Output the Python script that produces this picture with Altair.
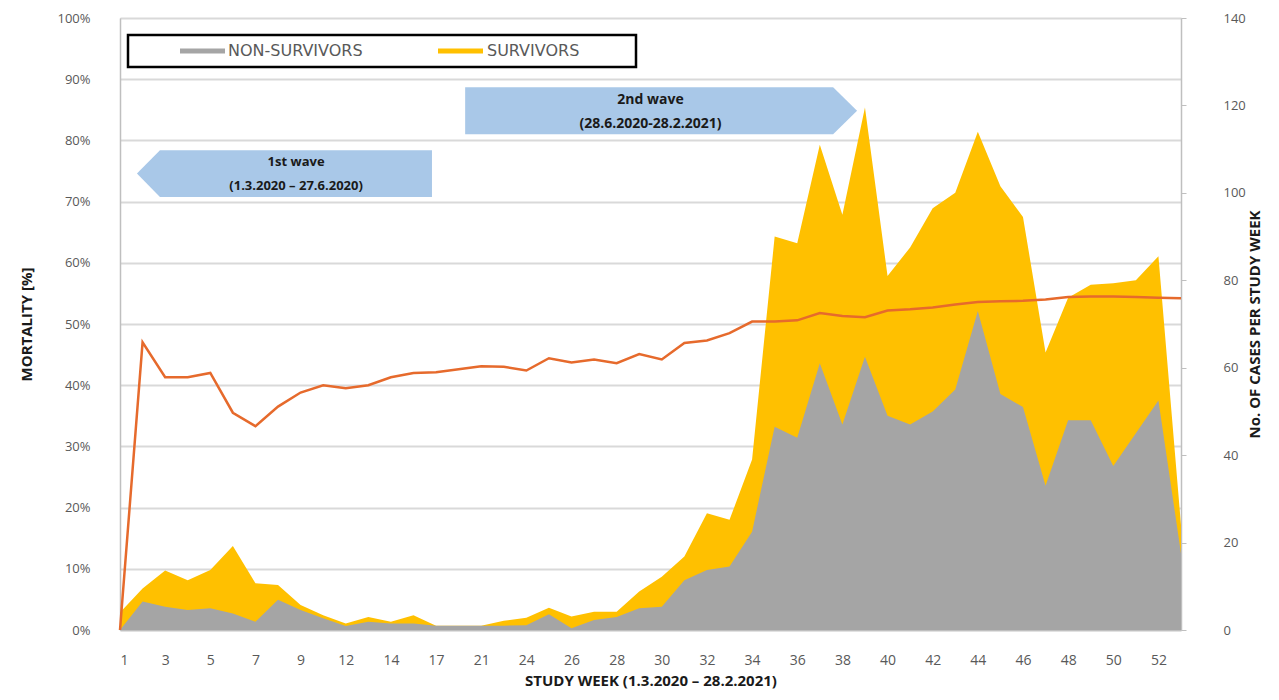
import altair as alt
import pandas as pd

# ---- data ----
weeks = [1, 2, 3, 4, 5, 6, 7, 8, 9, 10, 12, 13, 14, 15, 17, 19, 21, 22, 24, 25,
         26, 27, 28, 29, 30, 31, 32, 33, 34, 35, 36, 37, 38, 39, 40, 41, 42, 43,
         44, 45, 46, 47, 48, 49, 50, 51, 52, 53]
non_survivors = [0, 6.5, 5.3, 4.6, 5, 3.8, 1.9, 6.9, 4.6, 2.7, 0.9, 1.9, 1.5, 1.5,
                 1, 1, 1, 1, 1.1, 3.6, 0.4, 2.3, 3, 5, 5.3, 11.4, 13.7, 14.5, 22.5,
                 46.5, 44, 61, 47, 62.5, 49, 47, 50, 55, 73, 54, 51, 33, 48, 48,
                 37.5, 45, 52.5, 17.5]
survivors = [4, 3, 8.3, 6.8, 8.7, 15.4, 8.8, 3.4, 1.1, 0.7, 0.6, 1.1, 0.4, 1.9,
             0, 0, 0, 1.1, 1.7, 1.5, 2.7, 1.9, 1.2, 3.8, 6.9, 5.4, 13, 10.7, 16.5,
             43.5, 44.5, 50, 48, 57, 32, 40.5, 46.5, 45, 41, 47.5, 43.5, 30.5,
             28, 31, 41.8, 35, 33, 6.5]
mortality = [0, 47, 41.3, 41.3, 42, 35.5, 33.3, 36.5, 38.8, 40, 39.5, 40, 41.3, 42,
             42.1, 42.6, 43.1, 43, 42.4, 44.4, 43.7, 44.2, 43.6, 45.1, 44.2, 46.9,
             47.3, 48.5, 50.4, 50.4, 50.6, 51.8, 51.3, 51.1, 52.2, 52.4, 52.7,
             53.2, 53.6, 53.7, 53.8, 54.0, 54.4, 54.5, 54.5, 54.4, 54.3, 54.2]

pct_ticks = [0, 10, 20, 30, 40, 50, 60, 70, 80, 90, 100]
case_ticks = [0, 20, 40, 60, 80, 100, 120, 140]
x_tick_idx = list(range(0, 47, 2))

df = pd.DataFrame({
    "idx": list(range(len(weeks))),
    "week": weeks,
    "non": non_survivors,
    "surv": survivors,
    "mort": mortality,
})
df["total"] = df["non"] + df["surv"]

label_expr = "[" + ",".join(f"'{w}'" for w in weeks) + "][datum.value]"

FONT = "Open Sans"
GRAY_TXT = "#595959"
DARK = "#1a1a1a"

xscale = alt.Scale(domain=[0, 47], nice=False, zero=False)
xaxis = alt.Axis(values=x_tick_idx, labelExpr=label_expr, grid=False, ticks=False,
                 title="STUDY WEEK (1.3.2020 – 28.2.2021)", titleFontWeight="bold",
                 titleFontSize=15, titleColor=DARK, titlePadding=6,
                 labelFontSize=14, labelColor=GRAY_TXT, labelPadding=23,
                 domainColor="#bfbfbf", domainWidth=1.5, labelFont=FONT, titleFont=FONT)

x = alt.X("idx:Q", scale=xscale, axis=xaxis)

case_scale = alt.Scale(domain=[0, 140], nice=False)
right_axis = alt.Axis(orient="right", values=case_ticks, grid=False,
                      title="No. OF CASES PER STUDY WEEK", titleAngle=270,
                      titleFontWeight="bold", titleFontSize=15, titleColor=DARK,
                      titlePadding=17, labelFontSize=13, labelColor=GRAY_TXT,
                      labelPadding=37, tickSize=5, tickColor="#bfbfbf",
                      domainColor="#bfbfbf", domainWidth=1.5,
                      labelFont=FONT, titleFont=FONT)

gold = alt.Chart(df).mark_area(color="#ffc000", opacity=1).encode(
    x=x, y=alt.Y("total:Q", scale=case_scale, axis=right_axis))
gray = alt.Chart(df).mark_area(color="#a5a5a5", opacity=1).encode(
    x=alt.X("idx:Q", scale=xscale), y=alt.Y("non:Q", scale=case_scale))

areas = alt.layer(gold, gray)

pct_scale = alt.Scale(domain=[0, 100], nice=False)
left_axis = alt.Axis(orient="left", values=pct_ticks, labelExpr="datum.value + '%'",
                     grid=True, gridColor="#d9d9d9", gridWidth=1.8, ticks=False,
                     title="MORTALITY [%]", titleFontWeight="bold", titleFontSize=15,
                     titleColor=DARK, titlePadding=22, labelFontSize=13,
                     labelColor=GRAY_TXT, labelPadding=30, domainColor="#bfbfbf",
                     domainWidth=1.5, labelFont=FONT, titleFont=FONT)

line = alt.Chart(df).mark_line(color="#e66a2c", strokeWidth=2.5).encode(
    x=alt.X("idx:Q", scale=xscale),
    y=alt.Y("mort:Q", scale=pct_scale, axis=left_axis))

# wave arrows (annotation shapes in data coordinates)
arrow1 = pd.DataFrame({"ax": [0.75, 1.77, 13.82], "lo": [74.6, 70.75, 70.75],
                       "hi": [74.6, 78.4, 78.4]})
arrow2 = pd.DataFrame({"ax": [15.29, 31.59, 32.65], "lo": [81.0, 81.0, 84.85],
                       "hi": [88.7, 88.7, 84.85]})
ARROW = "#a9c8e8"
a1 = alt.Chart(arrow1).mark_area(color=ARROW, opacity=1).encode(
    x=alt.X("ax:Q", scale=xscale), y=alt.Y("lo:Q", scale=pct_scale), y2="hi:Q")
a2 = alt.Chart(arrow2).mark_area(color=ARROW, opacity=1).encode(
    x=alt.X("ax:Q", scale=xscale), y=alt.Y("lo:Q", scale=pct_scale), y2="hi:Q")

wave1_txt = pd.DataFrame({"tx": [7.8, 7.8], "ty": [76.4, 72.6],
                          "t": ["1st wave", "(1.3.2020 – 27.6.2020)"]})
wave2_txt = pd.DataFrame({"tx": [23.5, 23.5], "ty": [86.6, 82.7],
                          "t": ["2nd wave", "(28.6.2020-28.2.2021)"]})
wt1 = alt.Chart(wave1_txt).mark_text(font=FONT, fontSize=13, fontWeight="bold",
                                     color=DARK).encode(
    x=alt.X("tx:Q", scale=xscale), y=alt.Y("ty:Q", scale=pct_scale), text="t:N")
wt2 = alt.Chart(wave2_txt).mark_text(font=FONT, fontSize=14, fontWeight="bold",
                                     color=DARK).encode(
    x=alt.X("tx:Q", scale=xscale), y=alt.Y("ty:Q", scale=pct_scale), text="t:N")

# legend box
one = pd.DataFrame({"a": [0]})
box = alt.Chart(one).mark_rect(fill="white", stroke="black", strokeWidth=2.5).encode(
    x=alt.value(8), x2=alt.value(516), y=alt.value(17), y2=alt.value(49))
sw1 = alt.Chart(one).mark_rule(color="#a5a5a5", strokeWidth=5).encode(
    x=alt.value(60), x2=alt.value(105), y=alt.value(33))
sw2 = alt.Chart(one).mark_rule(color="#ffc000", strokeWidth=5).encode(
    x=alt.value(318), x2=alt.value(363), y=alt.value(33))
lt1 = alt.Chart(one).mark_text(text="NON-SURVIVORS", font="DejaVu Sans", fontSize=16,
                               color=GRAY_TXT, align="left", baseline="middle").encode(
    x=alt.value(108), y=alt.value(33))
lt2 = alt.Chart(one).mark_text(text="SURVIVORS", font="DejaVu Sans", fontSize=16,
                               color=GRAY_TXT, align="left", baseline="middle").encode(
    x=alt.value(367), y=alt.value(33))

top = alt.layer(line, a1, a2, wt1, wt2, box, sw1, sw2, lt1, lt2)

chart = alt.layer(areas, top).resolve_scale(y="independent").properties(
    width=1061, height=612,
    autosize=alt.AutoSizeParams(type="none"),
    padding={"left": 112, "top": 10, "right": 90, "bottom": 62},
).configure_view(stroke=None).configure(background="white")

chart.save("out.html", embed_options={"renderer": "svg", "actions": False})
